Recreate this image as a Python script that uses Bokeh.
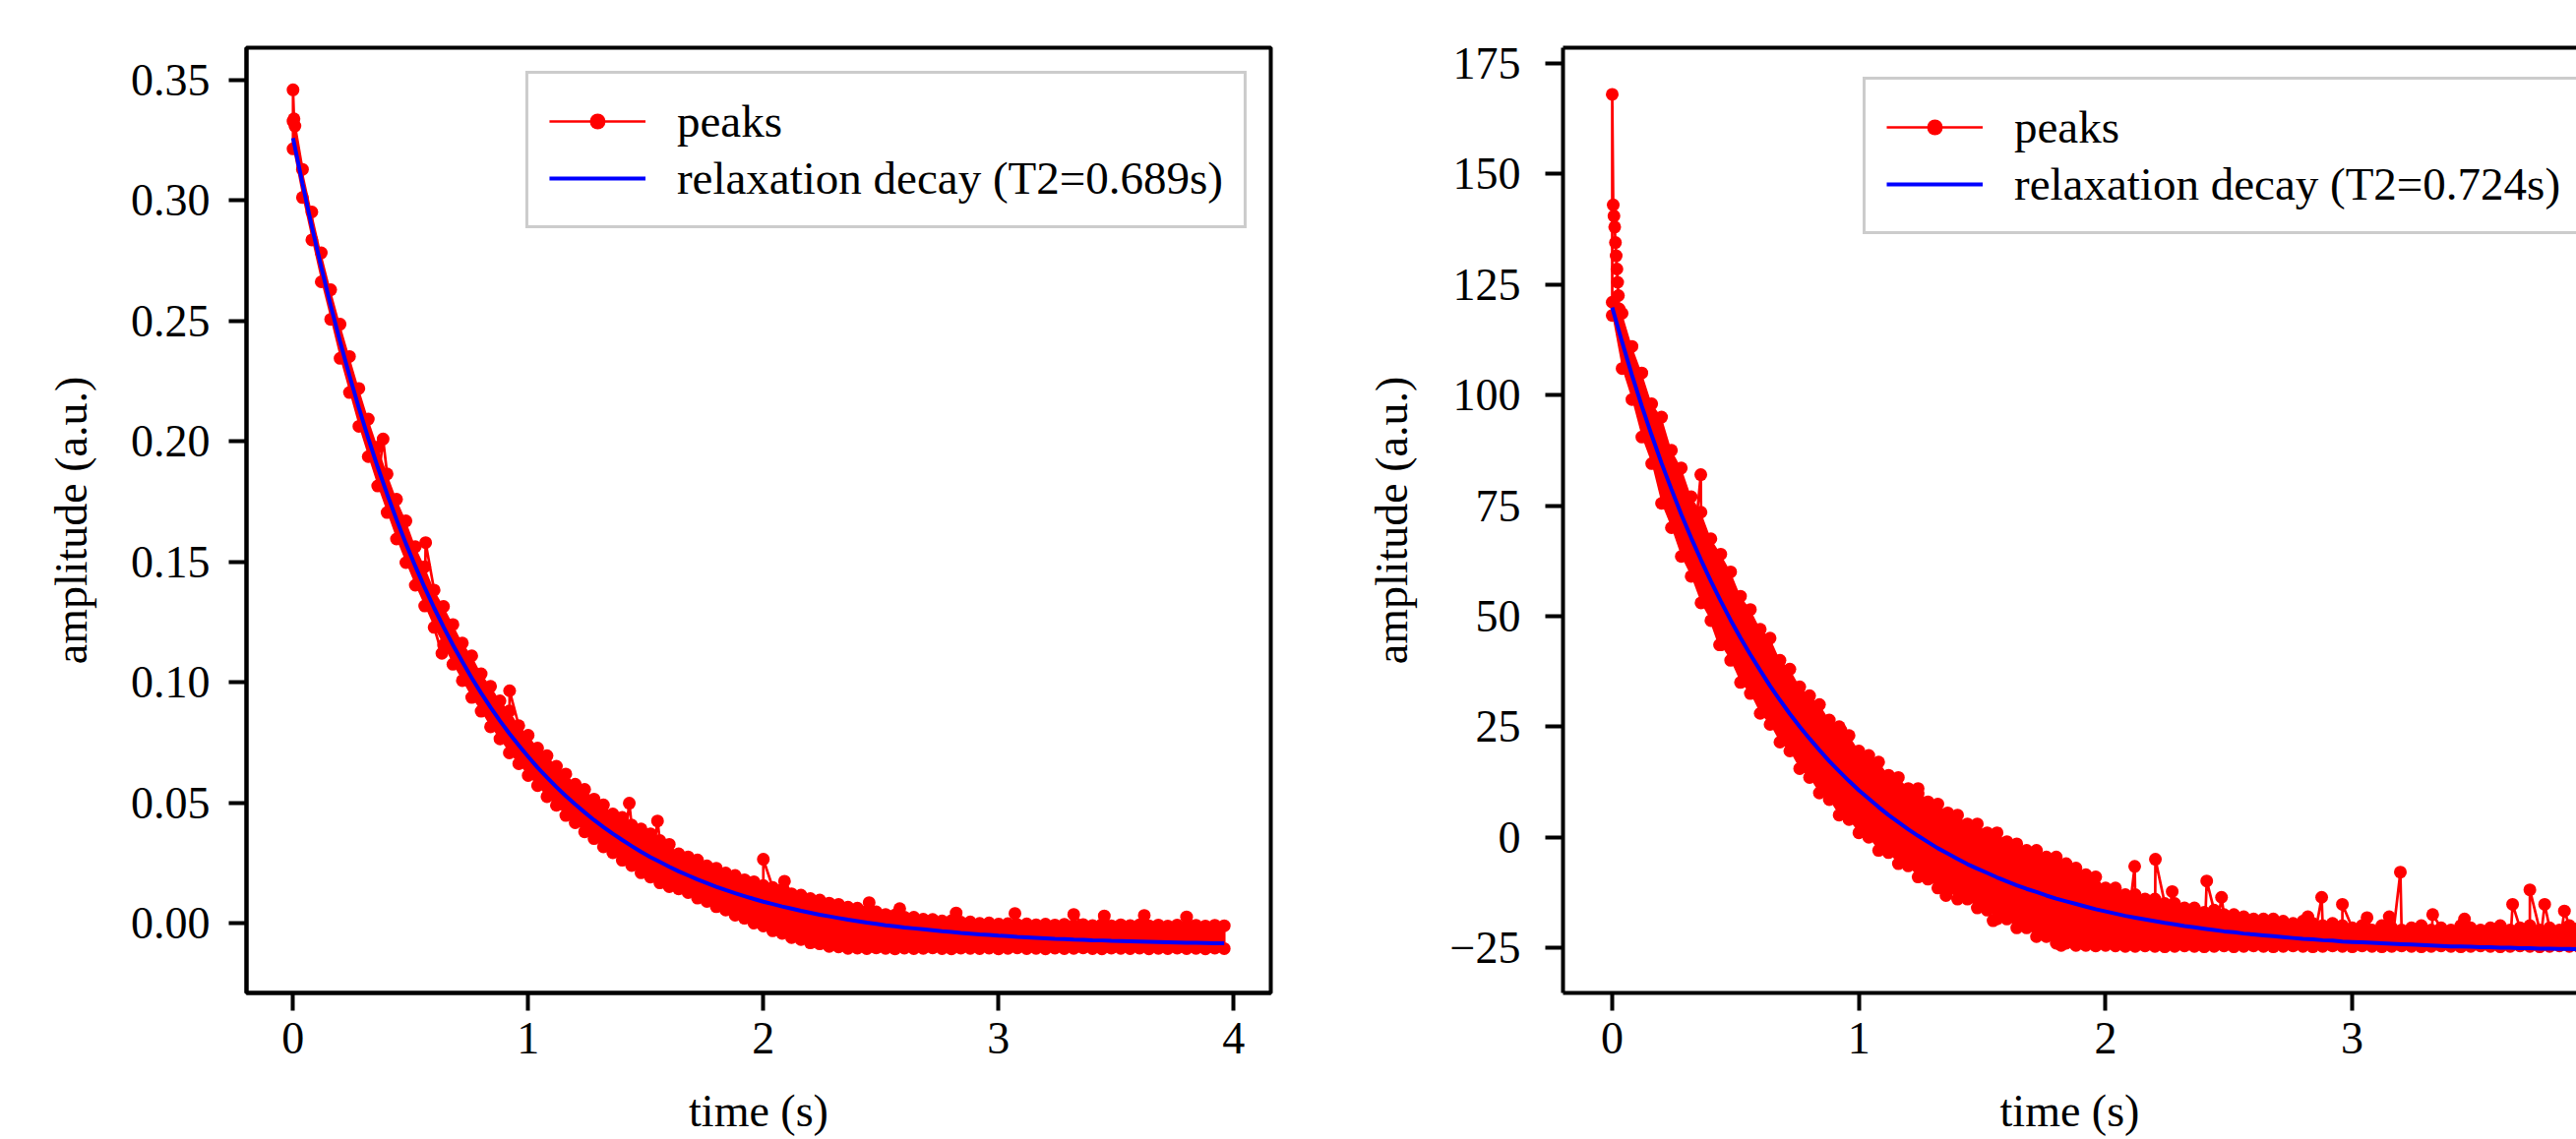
from bokeh.plotting import figure
from bokeh.layouts import row
from bokeh.models import (FixedTicker, LinearAxis, Legend, LegendItem, Range1d,
                          ColumnDataSource)
from bokeh.embed import file_html
from bokeh.resources import INLINE

# ---------------- data ----------------
T = [0.00, 0.04, 0.08, 0.12, 0.16, 0.20, 0.24, 0.28, 0.32, 0.36,
     0.40, 0.44, 0.48, 0.52, 0.56, 0.60, 0.64, 0.68, 0.72, 0.76,
     0.80, 0.84, 0.88, 0.92, 0.96, 1.00, 1.04, 1.08, 1.12, 1.16,
     1.20, 1.24, 1.28, 1.32, 1.36, 1.40, 1.44, 1.48, 1.52, 1.56,
     1.60, 1.64, 1.68, 1.72, 1.76, 1.80, 1.84, 1.88, 1.92, 1.96,
     2.00, 2.04, 2.08, 2.12, 2.16, 2.20, 2.24, 2.28, 2.32, 2.36,
     2.40, 2.44, 2.48, 2.52, 2.56, 2.60, 2.64, 2.68, 2.72, 2.76,
     2.80, 2.84, 2.88, 2.92, 2.96, 3.00, 3.04, 3.08, 3.12, 3.16,
     3.20, 3.24, 3.28, 3.32, 3.36, 3.40, 3.44, 3.48, 3.52, 3.56,
     3.60, 3.64, 3.68, 3.72, 3.76, 3.80, 3.84, 3.88, 3.92, 3.96]

# left panel: fitted relaxation decay (T2 = 0.689 s)
L_FIT = [0.3260, 0.3071, 0.2892, 0.2724, 0.2565, 0.2415, 0.2273, 0.2139, 0.2013, 0.1894,
         0.1782, 0.1676, 0.1576, 0.1482, 0.1393, 0.1309, 0.1230, 0.1155, 0.1085, 0.1018,
         0.0955, 0.0896, 0.0840, 0.0787, 0.0738, 0.0691, 0.0646, 0.0605, 0.0565, 0.0528,
         0.0493, 0.0460, 0.0428, 0.0399, 0.0371, 0.0345, 0.0320, 0.0296, 0.0274, 0.0254,
         0.0234, 0.0215, 0.0198, 0.0181, 0.0166, 0.0151, 0.0137, 0.0124, 0.0112, 0.0100,
         0.0089, 0.0079, 0.0069, 0.0060, 0.0051, 0.0043, 0.0035, 0.0028, 0.0021, 0.0014,
         0.0008, 0.0002, -0.0003, -0.0009, -0.0013, -0.0018, -0.0022, -0.0026, -0.0030, -0.0034,
         -0.0037, -0.0041, -0.0044, -0.0047, -0.0049, -0.0052, -0.0054, -0.0057, -0.0059, -0.0061,
         -0.0063, -0.0065, -0.0066, -0.0068, -0.0069, -0.0071, -0.0072, -0.0074, -0.0075, -0.0076,
         -0.0077, -0.0078, -0.0079, -0.0080, -0.0081, -0.0082, -0.0082, -0.0083, -0.0084, -0.0084]

# left panel: upper / lower edge of the dense peaks band
L_HI = [0.3330, 0.3130, 0.2953, 0.2783, 0.2630, 0.2487, 0.2353, 0.2220, 0.2093, 0.1977,
        0.1865, 0.1760, 0.1670, 0.1563, 0.1480, 0.1383, 0.1315, 0.1240, 0.1163, 0.1110,
        0.1035, 0.0983, 0.0923, 0.0881, 0.0820, 0.0780, 0.0727, 0.0695, 0.0651, 0.0619,
        0.0577, 0.0555, 0.0515, 0.0491, 0.0453, 0.0439, 0.0407, 0.0391, 0.0371, 0.0343,
        0.0327, 0.0288, 0.0275, 0.0262, 0.0238, 0.0228, 0.0208, 0.0198, 0.0180, 0.0172,
        0.0156, 0.0148, 0.0140, 0.0122, 0.0116, 0.0102, 0.0096, 0.0083, 0.0078, 0.0066,
        0.0062, 0.0050, 0.0047, 0.0036, 0.0034, 0.0025, 0.0024, 0.0016, 0.0015, 0.0009,
        0.0010, 0.0004, 0.0005, -0.0001, 0.0001, -0.0004, -0.0002, -0.0006, -0.0003, -0.0007,
        -0.0004, -0.0008, -0.0005, -0.0009, -0.0006, -0.0010, -0.0006, -0.0011, -0.0007, -0.0010,
        -0.0007, -0.0011, -0.0008, -0.0012, -0.0008, -0.0011, -0.0009, -0.0012, -0.0009, -0.0011]
L_LO = [0.3215, 0.3013, 0.2837, 0.2663, 0.2507, 0.2345, 0.2203, 0.2063, 0.1937, 0.1815,
        0.1705, 0.1595, 0.1497, 0.1403, 0.1317, 0.1228, 0.1155, 0.1075, 0.1007, 0.0937,
        0.0880, 0.0815, 0.0765, 0.0707, 0.0662, 0.0613, 0.0571, 0.0525, 0.0489, 0.0447,
        0.0417, 0.0379, 0.0351, 0.0317, 0.0292, 0.0261, 0.0239, 0.0209, 0.0191, 0.0167,
        0.0151, 0.0142, 0.0127, 0.0104, 0.0090, 0.0068, 0.0054, 0.0033, 0.0020, 0.0000,
        -0.0012, -0.0032, -0.0043, -0.0060, -0.0068, -0.0082, -0.0086, -0.0097, -0.0099, -0.0105,
        -0.0104, -0.0106, -0.0103, -0.0105, -0.0107, -0.0104, -0.0106, -0.0105, -0.0103, -0.0106,
        -0.0107, -0.0104, -0.0105, -0.0106, -0.0104, -0.0107, -0.0105, -0.0103, -0.0106, -0.0105,
        -0.0107, -0.0104, -0.0106, -0.0105, -0.0103, -0.0106, -0.0107, -0.0104, -0.0105, -0.0106,
        -0.0104, -0.0107, -0.0105, -0.0106, -0.0104, -0.0106, -0.0105, -0.0107, -0.0104, -0.0106]
# left panel: isolated outlying peaks
L_SPK_T = [0.000, 0.004, 0.008, 0.383, 0.564, 0.633, 0.921, 1.430, 1.550, 2.000,
           2.090, 2.450, 2.580, 2.820, 3.070, 3.320, 3.450, 3.620, 3.800]
L_SPK_V = [0.346, 0.334, 0.331, 0.201, 0.158, 0.112, 0.0965, 0.0498, 0.0424, 0.0265,
           0.0174, 0.0085, 0.0060, 0.0042, 0.0040, 0.0036, 0.0030, 0.0032, 0.0026]

# right panel: fitted relaxation decay (T2 = 0.724 s)
R_FIT = [119.8, 112.0, 104.5, 97.5, 90.9, 84.6, 78.7, 73.0, 67.7, 62.7,
         57.9, 53.4, 49.1, 45.1, 41.3, 37.7, 34.2, 31.0, 27.9, 25.0,
         22.3, 19.7, 17.2, 14.9, 12.7, 10.6, 8.7, 6.8, 5.0, 3.4,
         1.8, 0.3, -1.1, -2.5, -3.7, -4.9, -6.1, -7.1, -8.1, -9.1,
         -10.0, -10.9, -11.7, -12.4, -13.2, -13.9, -14.5, -15.1, -15.7, -16.3,
         -16.8, -17.3, -17.8, -18.2, -18.6, -19.0, -19.4, -19.7, -20.1, -20.4,
         -20.7, -21.0, -21.3, -21.5, -21.8, -22.0, -22.2, -22.4, -22.6, -22.8,
         -23.0, -23.1, -23.3, -23.4, -23.6, -23.7, -23.8, -23.9, -24.0, -24.1,
         -24.2, -24.3, -24.4, -24.5, -24.6, -24.7, -24.7, -24.8, -24.9, -24.9,
         -25.0, -25.0, -25.1, -25.1, -25.2, -25.2, -25.3, -25.3, -25.35, -25.4]
R_HI = [121.0, 118.5, 111.0, 105.0, 98.0, 95.0, 87.5, 83.5, 77.0, 73.5,
        67.5, 64.0, 60.0, 54.5, 51.5, 47.0, 45.0, 40.0, 38.0, 34.0,
        32.0, 30.0, 26.5, 25.0, 23.0, 19.5, 18.5, 17.0, 14.0, 13.5,
        11.0, 11.0, 8.0, 7.5, 5.5, 5.0, 3.0, 3.0, 1.0, 1.0,
        -1.0, -1.5, -3.0, -3.0, -4.5, -4.5, -6.0, -7.0, -8.5, -9.0,
        -11.5, -11.5, -13.0, -13.0, -14.0, -14.0, -15.0, -15.0, -16.0, -16.0,
        -17.0, -16.5, -17.5, -17.5, -18.0, -18.5, -18.5, -18.5, -19.0, -19.5,
        -19.0, -19.5, -20.0, -19.5, -20.0, -20.5, -20.0, -21.0, -20.0, -20.5,
        -21.0, -20.5, -20.0, -21.0, -20.5, -21.0, -20.0, -20.5, -21.0, -20.5,
        -20.0, -21.0, -20.5, -20.0, -21.0, -20.5, -21.0, -20.0, -20.5, -21.0]
R_LO = [118.0, 106.0, 99.0, 90.5, 84.5, 75.5, 70.0, 63.5, 59.0, 53.0,
        49.0, 43.5, 40.0, 35.0, 32.5, 28.0, 25.5, 21.5, 19.5, 15.5,
        13.5, 10.0, 8.5, 5.0, 4.0, 1.0, 0.0, -3.0, -3.5, -6.0,
        -6.5, -9.0, -9.5, -11.5, -12.0, -14.0, -14.0, -16.0, -16.5, -18.5,
        -18.5, -20.5, -20.5, -22.5, -22.5, -24.0, -24.0, -24.5, -24.5, -24.6,
        -24.5, -24.6, -24.7, -24.7, -24.6, -24.7, -24.8, -24.7, -24.6, -24.7,
        -24.8, -24.7, -24.6, -24.8, -24.7, -24.6, -24.7, -24.8, -24.7, -24.6,
        -24.7, -24.8, -24.7, -24.6, -24.7, -24.8, -24.6, -24.7, -24.8, -24.7,
        -24.6, -24.7, -24.8, -24.7, -24.6, -24.7, -24.8, -24.7, -24.6, -24.7,
        -24.8, -24.7, -24.6, -24.7, -24.8, -24.7, -24.6, -24.7, -24.8, -24.7]
R_SPK_T = [0.000, 0.004, 0.007, 0.010, 0.013, 0.016, 0.019, 0.022, 0.025, 0.028,
           0.359, 0.435, 0.927, 1.070, 1.240, 1.353, 1.544, 1.820, 2.118, 2.202,
           2.270, 2.410, 2.470, 2.820, 2.876, 2.960, 3.060, 3.150, 3.195, 3.326,
           3.455, 3.650, 3.720, 3.780, 3.860]
R_SPK_V = [168.0, 143.0, 140.5, 138.0, 134.5, 131.5, 128.5, 125.5, 122.5, 119.5,
           82.0, 43.5, 24.2, 15.3, 9.8, -13.2, -18.9, -24.5, -6.6, -5.0,
           -12.3, -9.9, -13.6, -18.0, -13.6, -15.2, -18.2, -18.0, -7.9, -17.5,
           -18.5, -15.2, -11.9, -15.2, -16.7]

X_TICKS = [0, 1, 2, 3, 4]
X_LABELS = ["0", "1", "2", "3", "4"]
L_YTICKS = [0.0, 0.05, 0.1, 0.15, 0.2, 0.25, 0.3, 0.35]
L_YLABELS = ["0.00", "0.05", "0.10", "0.15", "0.20", "0.25", "0.30", "0.35"]
R_YTICKS = [-25, 0, 25, 50, 75, 100, 125, 150, 175]
R_YLABELS = ["\u221225", "0", "25", "50", "75", "100", "125", "150", "175"]

L_LABEL = "relaxation decay (T2=0.689s)"
R_LABEL = "relaxation decay (T2=0.724s)"

for arr in (L_FIT, L_HI, L_LO, R_FIT, R_HI, R_LO):
    assert len(arr) == len(T), len(arr)
assert len(L_SPK_T) == len(L_SPK_V) and len(R_SPK_T) == len(R_SPK_V)

FONT = "'Liberation Serif', 'Times New Roman', serif"
FS = "46px"
LEG_FS = "47px"


def peaks_sequence(hi, lo, st, sv):
    pts = []
    for t, h, l in zip(T, hi, lo):
        pts.append((t, h))
        pts.append((t, l))
    pts += list(zip(st, sv))
    pts.sort(key=lambda p: p[0])
    return [p[0] for p in pts], [p[1] for p in pts]


def style_axis(ax, label_standoff, axis_label_standoff):
    ax.major_label_text_font = FONT
    ax.major_label_text_font_size = FS
    ax.major_label_text_color = "black"
    ax.axis_label_text_font = FONT
    ax.axis_label_text_font_size = FS
    ax.axis_label_text_font_style = "normal"
    ax.axis_label_text_color = "black"
    ax.major_tick_in = 0
    ax.major_tick_out = 18
    ax.major_tick_line_width = 4
    ax.major_tick_line_color = "black"
    ax.minor_tick_line_color = None
    ax.axis_line_width = 4
    ax.axis_line_color = "black"
    ax.major_label_standoff = label_standoff
    ax.axis_label_standoff = axis_label_standoff


def panel(xr, yr, fw, fh, mbl, mbr, mbt, mbb, fit, hi, lo, st, sv, yticks, ylabels,
          ylab_standoff, yaxis_label_standoff, label, legend_loc, full_outline):
    p = figure(frame_width=fw, frame_height=fh, x_range=Range1d(*xr), y_range=Range1d(*yr),
               output_backend="svg", toolbar_location=None,
               min_border_left=mbl, min_border_right=mbr, min_border_top=mbt,
               min_border_bottom=mbb)
    p.background_fill_color = "white"
    p.border_fill_color = "white"
    p.xgrid.grid_line_color = None
    p.ygrid.grid_line_color = None

    px, pv = peaks_sequence(hi, lo, st, sv)
    band = ColumnDataSource(dict(t=T, hi=hi, lo=lo))
    pk = ColumnDataSource(dict(t=px, v=pv))
    ft = ColumnDataSource(dict(t=T, v=fit))

    p.varea(x="t", y1="lo", y2="hi", source=band, fill_color="#ff0000", fill_alpha=1.0)
    r_line = p.line(x="t", y="v", source=pk, line_color="#ff0000", line_width=2.7)
    r_pts = p.scatter(x="t", y="v", source=pk, marker="circle", size=13,
                      fill_color="#ff0000", line_color=None)
    r_fit = p.line(x="t", y="v", source=ft, line_color="#0000ff", line_width=4)

    xax = p.below[0]
    yax = p.left[0]
    xax.ticker = FixedTicker(ticks=X_TICKS)
    xax.major_label_overrides = dict(zip(X_TICKS, X_LABELS))
    yax.ticker = FixedTicker(ticks=yticks)
    yax.major_label_overrides = dict(zip(yticks, ylabels))
    xax.axis_label = "time (s)"
    yax.axis_label = "amplitude (a.u.)"
    style_axis(xax, 12, 30)
    style_axis(yax, ylab_standoff, yaxis_label_standoff)

    if full_outline:
        p.outline_line_color = "black"
        p.outline_line_width = 4
        p.outline_line_alpha = 1.0
    else:
        p.outline_line_color = None
        top = LinearAxis(ticker=FixedTicker(ticks=[]), major_label_text_font_size="0px",
                         major_tick_in=0, major_tick_out=0,
                         major_tick_line_color=None, minor_tick_line_color=None,
                         minor_tick_in=0, minor_tick_out=0,
                         axis_line_width=4, axis_line_color="black",
                         major_label_standoff=0, axis_label=None)
        p.add_layout(top, "above")

    leg = Legend(items=[LegendItem(label="peaks", renderers=[r_line, r_pts]),
                        LegendItem(label=label, renderers=[r_fit])],
                 location=legend_loc)
    leg.label_text_font = FONT
    leg.label_text_font_size = LEG_FS
    leg.label_text_color = "black"
    leg.glyph_width = 98
    leg.glyph_height = 40
    leg.label_standoff = 32
    leg.padding = 21
    leg.spacing = 4
    leg.margin = 24
    leg.border_line_color = "#cccccc"
    leg.border_line_width = 3
    leg.border_line_alpha = 1.0
    leg.background_fill_color = "white"
    leg.background_fill_alpha = 0.8
    p.add_layout(leg)
    return p


p1 = panel((-0.198, 4.158), (-0.0290, 0.3635), 1041, 961, 250, 19, 48, 149,
           L_FIT, L_HI, L_LO, L_SPK_T, L_SPK_V, L_YTICKS, L_YLABELS, 19, 32,
           L_LABEL, "top_right", True)
p2 = panel((-0.1995, 3.909), (-35.23, 178.56), 1030, 961, 278, 0, 48, 149,
           R_FIT, R_HI, R_LO, R_SPK_T, R_SPK_V, R_YTICKS, R_YLABELS, 25, 31,
           R_LABEL, (305, 771), False)

layout = row(p1, p2)
open("out.html", "w").write(file_html(layout, INLINE))
